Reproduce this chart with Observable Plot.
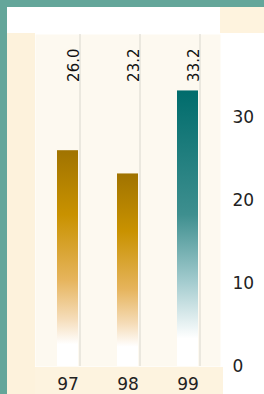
<!DOCTYPE html>
<html>
<head>
<meta charset="utf-8">
<script src="https://cdn.jsdelivr.net/npm/d3@7"></script>
<script src="https://cdn.jsdelivr.net/npm/@observablehq/plot@0.6"></script>
<style>
  html, body { margin: 0; padding: 0; background: #64a69a; width: 264px; height: 394px; overflow: hidden; }
  #chart {
    position: absolute; left: 7px; top: 7px; width: 257px; height: 387px;
    background:
      linear-gradient(#fdf2dc, #fdf2dc) 0 26px / 28px 361px no-repeat,
      linear-gradient(#fdf3df, #fdf3df) 28px 360px / 188px 27px no-repeat,
      linear-gradient(#fef3de, #fef3de) 213px 0 / 44px 26px no-repeat,
      #ffffff;
  }
  #chart svg { display: block; }
</style>
</head>
<body>
<div id="chart"></div>
<script>
const years = ["97", "98", "99"];
const values = [26.0, 23.2, 33.2];
const labels = ["26.0", "23.2", "33.2"];
const palette = ["gold", "gold", "teal"];
const yTicks = [0, 10, 20, 30];

const data = years.map((year, i) => ({year, value: values[i], label: labels[i], fill: `url(#grad-${palette[i]})`}));

const plot = Plot.plot({
  width: 257,
  height: 387,
  marginTop: 27,
  marginBottom: 28,
  marginLeft: 28,
  marginRight: 44,
  style: {fontFamily: "DejaVu Sans", fontSize: "17px", color: "#222", background: "none"},
  x: {type: "band", domain: years, paddingInner: 0.656, paddingOuter: 0.352, tickSize: 0, tickPadding: 11, label: null},
  y: {domain: [0, 40], axis: "right", ticks: yTicks, tickSize: 0, tickPadding: 12, label: null},
  color: {type: "identity"},
  marks: [
    Plot.frame({fill: "#fdf9f0", stroke: "none"}),
    Plot.ruleX(years, {x: d => d, dx: 12, stroke: "#e0dcd4", strokeWidth: 1.2}),
    Plot.barY(data, {x: "year", y: "value", fill: "fill"}),
    Plot.text(data, {x: "year", frameAnchor: "top", dy: 14, text: "label", rotate: -90, textAnchor: "end", fontSize: 15, fill: "#111"})
  ]
});

const ns = "http://www.w3.org/2000/svg";
const defs = document.createElementNS(ns, "defs");
function grad(id, stops) {
  const g = document.createElementNS(ns, "linearGradient");
  g.setAttribute("id", id);
  g.setAttribute("x1", "0"); g.setAttribute("y1", "0");
  g.setAttribute("x2", "0"); g.setAttribute("y2", "1");
  for (const [o, c] of stops) {
    const s = document.createElementNS(ns, "stop");
    s.setAttribute("offset", o);
    s.setAttribute("stop-color", c);
    g.appendChild(s);
  }
  defs.appendChild(g);
}
grad("grad-gold", [[0, "#a07300"], [0.3, "#c99200"], [0.6, "#e6b45c"], [0.78, "#f5dcb8"], [0.9, "#ffffff"], [1, "#ffffff"]]);
grad("grad-teal", [[0, "#006c6c"], [0.45, "#3e8f8f"], [0.7, "#a6cdd0"], [0.9, "#ffffff"], [1, "#ffffff"]]);
plot.insertBefore(defs, plot.firstChild);

document.getElementById("chart").appendChild(plot);
</script>
</body>
</html>
